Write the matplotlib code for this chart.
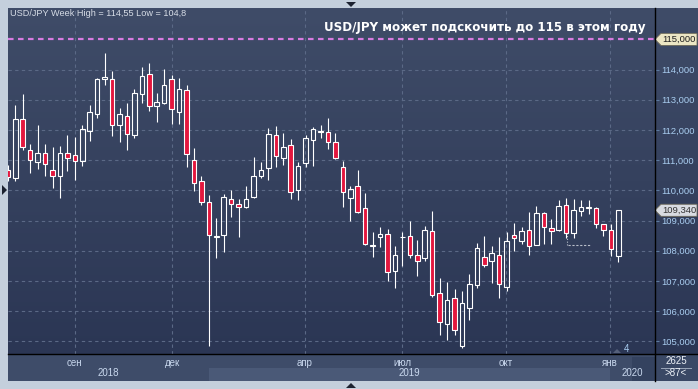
import numpy as np
import matplotlib
matplotlib.use('Agg')
import matplotlib.pyplot as plt
from matplotlib.patches import Polygon, Rectangle
from matplotlib.lines import Line2D
from matplotlib.transforms import blended_transform_factory

# weekly USD/JPY candles
opens = [110.69, 110.40, 112.38, 111.35, 110.95, 111.25, 110.66, 110.48, 111.25, 111.16,
         110.98, 111.95, 112.53, 113.69, 113.68, 112.17, 112.45, 111.84, 113.20, 113.87,
         112.78, 112.90, 113.70, 112.60, 113.31, 111.02, 110.30, 109.60, 108.47, 108.51,
         109.73, 109.54, 109.45, 109.79, 110.49, 110.75, 111.82, 111.08, 111.49, 110.00,
         110.91, 111.67, 111.98, 111.92, 111.59, 110.79, 109.76, 110.16, 109.40, 108.17,
         108.44, 108.54, 107.34, 108.44, 108.48, 107.85, 107.77, 108.64, 106.59, 105.59,
         106.43, 104.83, 106.12, 106.88, 107.78, 107.67, 107.85, 106.81, 108.51, 108.33,
         108.68, 108.20, 109.24, 108.74, 108.68, 109.50, 108.58, 109.33, 109.42, 109.40,
         108.87, 108.68, 107.82]
highs = [110.85, 112.82, 113.18, 111.53, 112.16, 111.53, 111.43, 111.46, 111.83, 111.76,
         112.16, 112.84, 113.71, 114.55, 113.96, 112.73, 112.88, 113.37, 114.07, 114.21,
         113.21, 114.01, 113.81, 113.71, 113.50, 111.40, 110.47, 109.83, 109.07, 109.87,
         110.00, 109.73, 110.16, 111.10, 110.94, 112.06, 112.13, 111.89, 111.70, 110.94,
         111.83, 112.09, 112.16, 112.39, 111.89, 110.97, 110.16, 110.67, 109.91, 108.61,
         108.79, 108.72, 108.16, 108.62, 108.98, 108.34, 108.82, 109.31, 107.09, 106.97,
         106.72, 106.66, 107.22, 108.26, 108.49, 108.16, 108.45, 108.61, 108.92, 108.79,
         109.28, 109.48, 109.27, 109.05, 109.68, 109.74, 109.71, 109.68, 109.68, 109.44,
         108.88, 108.88, 109.36]
lows = [110.30, 110.32, 111.35, 110.58, 110.70, 110.48, 110.09, 109.76, 110.65, 110.35,
        110.81, 111.64, 112.41, 113.49, 111.81, 111.61, 111.34, 111.75, 112.90, 112.63,
        112.27, 112.86, 112.20, 112.20, 110.78, 109.99, 109.52, 104.86, 107.77, 107.97,
        109.13, 108.47, 109.41, 109.76, 110.42, 110.35, 110.78, 110.84, 109.71, 109.68,
        110.78, 110.81, 111.73, 111.38, 111.05, 109.45, 109.00, 109.26, 108.20, 107.80,
        108.13, 107.01, 106.78, 107.51, 107.77, 107.18, 107.67, 106.48, 105.22, 105.03,
        105.22, 104.79, 105.72, 106.75, 107.47, 106.94, 106.45, 106.68, 108.00, 108.22,
        107.87, 108.20, 108.23, 108.23, 108.66, 108.41, 108.41, 109.16, 109.23, 108.76,
        108.48, 107.84, 107.64]
closes = [110.45, 112.36, 111.42, 111.02, 111.25, 110.88, 110.49, 111.25, 111.06, 110.98,
          112.02, 112.61, 113.68, 113.75, 112.18, 112.54, 111.88, 113.21, 113.80, 112.80,
          112.94, 113.50, 112.68, 113.37, 111.22, 110.26, 109.60, 108.51, 108.49, 109.77,
          109.54, 109.46, 109.73, 110.46, 110.66, 111.88, 111.14, 111.45, 109.93, 110.82,
          111.72, 112.02, 111.92, 111.59, 111.08, 109.93, 110.03, 109.29, 108.23, 108.19,
          108.54, 107.31, 107.85, 108.46, 107.87, 107.67, 108.68, 106.55, 105.65, 106.36,
          105.36, 106.26, 106.89, 108.08, 107.54, 107.91, 106.91, 108.31, 108.43, 108.64,
          108.17, 109.24, 108.77, 108.64, 109.47, 108.58, 109.34, 109.44, 109.44, 108.87,
          108.68, 108.07, 109.34]

months = ['сен', 'дек', 'апр', 'июл', 'окт', 'янв']
month_pos = [9.0, 22.05, 39.9, 52.95, 66.9, 80.9]
years = ['2018', '2019', '2020']
year_starts = [0.0, 27.0, 80.9, 86.93]
y_ticks = [105, 106, 107, 108, 109, 110, 111, 112, 113, 114]
target = 115.0
last_price = 109.34

W, H = 698, 389
def rect(x0, y0, x1, y1):
    return [x0 / W, 1 - y1 / H, (x1 - x0) / W, (y1 - y0) / H]

def fx(x):
    return x / W

def fy(y):
    return 1 - y / H

fig = plt.figure(figsize=(W / 100, H / 100), dpi=100, facecolor='#c4cfdc')

# dark gradient background
bg = fig.add_axes(rect(8, 8, 698, 354))
grad = np.linspace(0, 1, 256).reshape(-1, 1)
c_top = np.array([63, 76, 104]) / 255
c_bot = np.array([43, 54, 84]) / 255
img = c_top[None, None, :] * (1 - grad[:, :, None]) + c_bot[None, None, :] * grad[:, :, None]
bg.imshow(img, aspect='auto', extent=[0, 1, 0, 1])
bg.set_axis_off()

# bottom right box
fig.add_artist(Rectangle((fx(655), fy(381)), fx(698) - fx(655), fy(354) - fy(381),
                         transform=fig.transFigure, facecolor='#3a4865', edgecolor='none'))

ax = fig.add_axes(rect(8, 8, 655, 354))
ax.set_facecolor('none')
x = np.arange(len(opens))
o = np.array(opens); c = np.array(closes)
tops = np.maximum(o, c)
bots = np.minimum(o, c)
up = c >= o
ax.vlines(x, tops, highs, color='white', lw=0.8, zorder=3)
ax.vlines(x, lows, bots, color='white', lw=0.8, zorder=3)
ax.bar(x, tops - bots, bottom=bots, width=0.62,
       color=['none' if u else '#e3173e' for u in up],
       edgecolor='white', linewidth=0.8, zorder=4)

ax.set_xlim(0.02, 86.93)
ax.set_ylim(104.58, 116.04)

for v in y_ticks:
    ax.axhline(v, color='#5b6986', lw=0.8, ls=(0, (3, 3)), zorder=1)
for p in month_pos:
    ax.axvline(p, color='#5b6986', lw=0.8, ls=(0, (3, 3)), zorder=1)
ax.axhline(target, color='#d77be0', lw=1.6, ls=(0, (2.5, 2)), zorder=2)

# small indicator marker near the right end
ax.plot([75.3, 78.2], [108.2, 108.2], color='#b9bfca', lw=0.8, ls=(0, (2, 1.5)), zorder=2)
ax.plot([75.1, 75.1], [108.7, 108.2], color='#b9bfca', lw=0.8, ls=(0, (1, 1.5)), zorder=2)

ax.yaxis.tick_right()
ax.set_yticks(y_ticks)
ax.set_yticklabels([f'{v:.3f}'.replace('.', ',') for v in y_ticks])
ax.tick_params(axis='y', colors='#5d7aa0', length=3, width=0.8, pad=1.5,
               labelcolor='#a9cdf0', labelsize=6.8)
for lab in ax.get_yticklabels():
    lab.set_family('Liberation Sans')
ax.set_xticks([])
for s in ax.spines.values():
    s.set_visible(False)

# price tags on the right axis
tr = blended_transform_factory(fig.transFigure, ax.transData)
def tag(price, face, txtcol):
    h = 0.2
    pts = [(fx(655), price), (fx(661), price + h), (fx(697), price + h),
           (fx(697), price - h), (fx(661), price - h)]
    ax.add_patch(Polygon(pts, closed=True, transform=tr, facecolor=face,
                         edgecolor='#6d6a5a', lw=0.6, clip_on=False, zorder=6))
    ax.text(fx(662), price, f'{price:.3f}'.replace('.', ','), transform=tr,
            ha='left', va='center', fontsize=6.8, color=txtcol,
            family='Liberation Sans', clip_on=False, zorder=7)

tag(target, '#ece6c4', '#1e1e1e')
tag(last_price, '#d8dbe1', '#333333')

# x band with months and years
xb = fig.add_axes(rect(8, 354, 655, 381))
xb.set_facecolor('#3e4c69')
xb.set_xlim(ax.get_xlim())
xb.set_ylim(0, 27)
xb.add_patch(Rectangle((year_starts[1], 0), year_starts[2] - year_starts[1], 13,
                       facecolor='#4a5977', edgecolor='none'))
xb.add_patch(Rectangle((0.9645, 0), 0.0355, 24, transform=blended_transform_factory(xb.transAxes, xb.transData),
                       facecolor='#34425f', edgecolor='none'))
for m, p in zip(months, month_pos):
    xb.text(p, 18, m, ha='center', va='center', fontsize=7, color='#c9d8ee',
            family='Liberation Sans')
for i, yl in enumerate(years):
    mid = (year_starts[i] + year_starts[i + 1]) / 2
    xb.text(mid, 7.5, yl, ha='center', va='center', fontsize=7, color='#c9d8ee',
            family='Liberation Sans')
xb.set_xticks([]); xb.set_yticks([])
for s in xb.spines.values():
    s.set_visible(False)

# separators
fig.add_artist(Line2D([fx(655), fx(655)], [fy(8), fy(381)], color='black', lw=1))
fig.add_artist(Line2D([fx(8), fx(698)], [fy(354), fy(354)], color='black', lw=1))

# texts
fig.text(fx(10), fy(14), 'USD/JPY Week High = 114,55 Low = 104,8', fontsize=6.6,
         color='#d6dce6', family='Liberation Sans', ha='left', va='center')
fig.text(fx(645), fy(27), 'USD/JPY может подскочить до 115 в этом году', fontsize=8.6,
         color='white', weight='bold', ha='right', va='center')
fig.text(fx(627), fy(349), '4', fontsize=7, color='#a9cdf0', ha='center', va='center',
         family='Liberation Sans')
fig.add_artist(Polygon([(fx(613), fy(353)), (fx(617), fy(349)), (fx(621), fy(353))],
                       closed=True, facecolor='#55607a', edgecolor='none'))
fig.text(fx(676), fy(361.5), '2625', fontsize=7, color='#eef2f8', ha='center', va='center',
         family='Liberation Sans', zorder=10)
fig.add_artist(Line2D([fx(661), fx(691)], [fy(367.5), fy(367.5)], color='#9aa6ba', lw=0.7))
fig.text(fx(676), fy(373.5), '>87<', fontsize=7, color='#eef2f8', ha='center', va='center',
         family='Liberation Sans', zorder=10)

# frame arrows
for pts in ([(346, 2), (356, 2), (351, 7)],
            [(2, 185), (2, 195), (7, 190)],
            [(346, 388), (356, 388), (351, 383)]):
    fig.add_artist(Polygon([(fx(a), fy(b)) for a, b in pts], closed=True,
                           facecolor='#1c2230', edgecolor='none'))

fig.savefig('out.png', dpi=100, facecolor=fig.get_facecolor())
